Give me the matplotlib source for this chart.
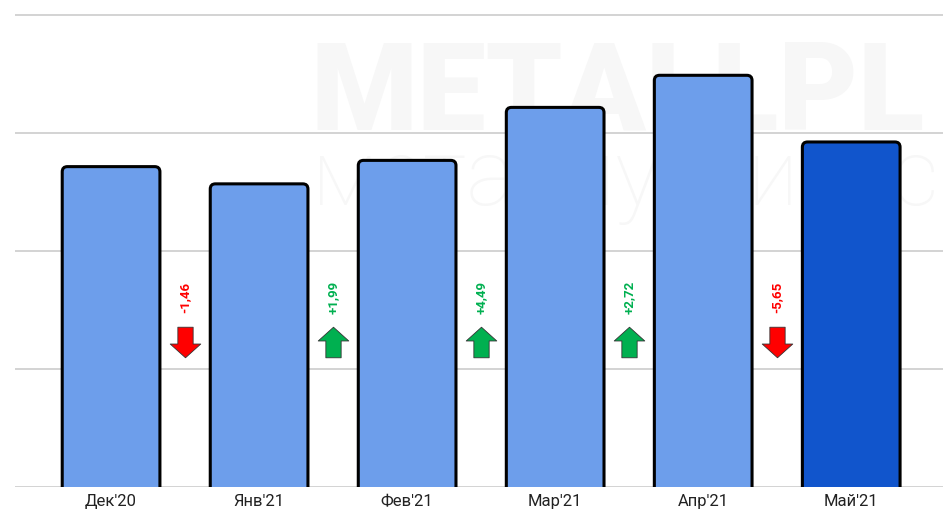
import numpy as np
import matplotlib.pyplot as plt
from matplotlib.patches import FancyBboxPatch
from matplotlib.path import Path

plt.rcParams['font.family'] = ['Roboto', 'DejaVu Sans']

months = ["Дек'20", "Янв'21", "Фев'21", "Мар'21", "Апр'21", "Май'21"]
values = [27.15, 25.69, 27.68, 32.17, 34.89, 29.24]
changes = [-1.46, 1.99, 4.49, 2.72, -5.65]
change_labels = ["-1,46", "+1,99", "+4,49", "+2,72", "-5,65"]

light = '#6d9eeb'
dark = '#1155cc'
up_col = '#00b050'
down_col = '#ff0000'

W, H = 943, 511
fig = plt.figure(figsize=(W / 100, H / 100), dpi=100)
ymax = 41
px_per_unit = 11.8
ax_top = 487 - ymax * px_per_unit
ax = fig.add_axes([15 / W, (H - 487) / H, 928 / W, (487 - ax_top) / H])
ax.set_xlim(-0.649, 5.62)
ax.set_ylim(0, ymax)
ax.patch.set_alpha(0)

# faint watermark behind the chart
fig.text(310 / W, (H - 130) / H, 'METALLPL', fontsize=88, fontweight='black',
         color='#f7f7f7', va='baseline', ha='left', zorder=-1)
fig.text(312 / W, (H - 205) / H, 'металлургичес', fontsize=66, fontweight='light',
         color='#f7f7f7', va='baseline', ha='left', zorder=-1)

for yv in range(0, 50, 10):
    ax.axhline(yv, color='#cccccc', lw=1.2, zorder=1)

x = np.arange(len(months))
bw = 0.66
rx = 0.035
aspect = 148 / px_per_unit
for i, v in enumerate(values):
    col = dark if i == len(values) - 1 else light
    p = FancyBboxPatch((x[i] - bw / 2, -1), bw, v + 1,
                       boxstyle=f"round,pad=0,rounding_size={rx}",
                       mutation_aspect=aspect, fc=col, ec='black', lw=2.2, zorder=3)
    ax.add_patch(p)

# block arrows as markers
up_verts = [(-0.25, -0.5), (0.25, -0.5), (0.25, 0.05), (0.5, 0.05), (0, 0.5),
            (-0.5, 0.05), (-0.25, 0.05), (-0.25, -0.5)]
codes = [Path.MOVETO] + [Path.LINETO] * 6 + [Path.CLOSEPOLY]
up_path = Path(up_verts, codes)
down_path = Path([(a, -b) for a, b in up_verts], codes)

for i, (c, lab) in enumerate(zip(changes, change_labels)):
    xm = x[i] + 0.5
    col = up_col if c > 0 else down_col
    ax.scatter([xm], [12.3], marker=up_path if c > 0 else down_path, s=22 ** 2,
               color=col, edgecolors='#333333', linewidths=0.6, zorder=4)
    ax.text(xm, 16.1, lab, rotation=90, ha='center', va='center', fontsize=9.5,
            fontweight='bold', color=col, zorder=4)

ax.set_xticks(x)
ax.set_xticklabels(months, fontsize=12, color='#222222')
ax.tick_params(axis='x', length=0, pad=5)
ax.set_yticks([])
for s in ax.spines.values():
    s.set_visible(False)

fig.savefig('out.png', dpi=100)
